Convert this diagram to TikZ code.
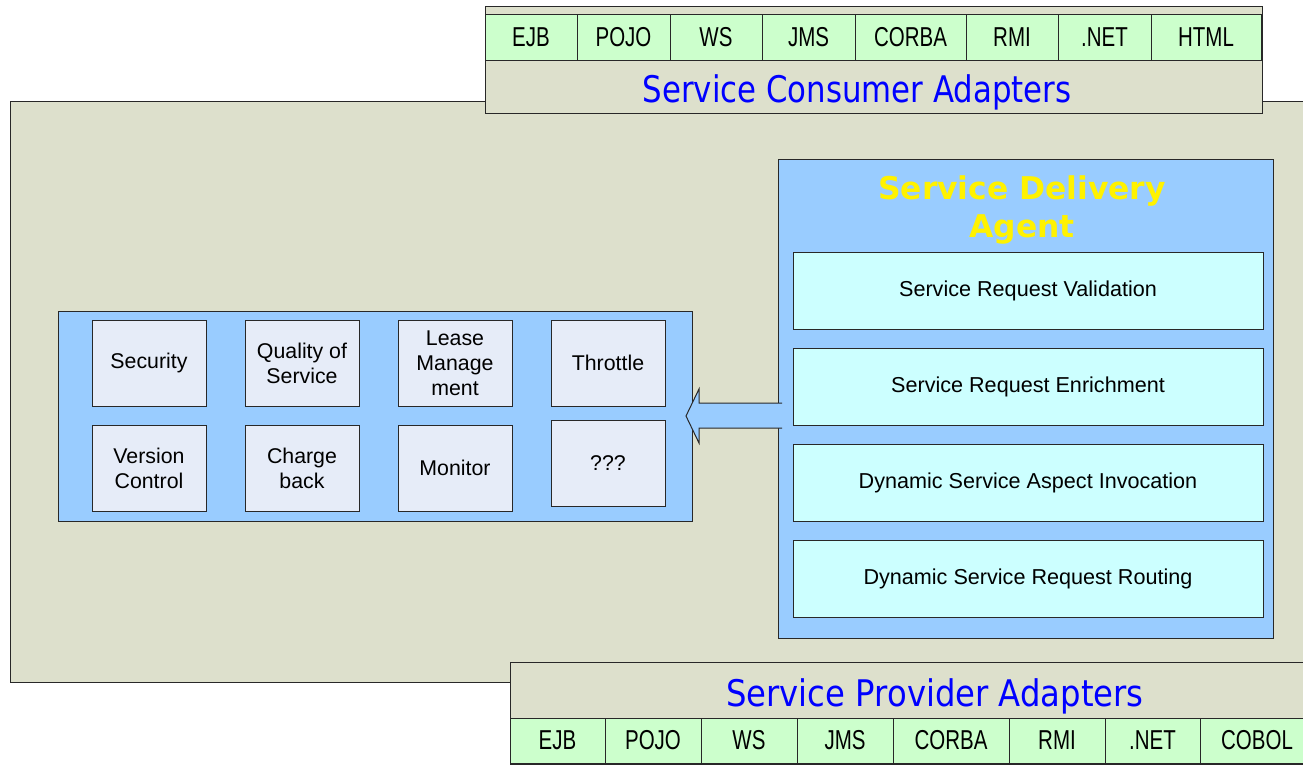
\documentclass[tikz,border=0pt]{standalone}
\usepackage{fontspec}
\setmainfont{Liberation Sans}
\newfontfamily\cellfont[FakeStretch=0.75]{Liberation Sans}
\newfontfamily\bannerfont[FakeStretch=0.84]{DejaVu Sans}
\newfontfamily\bannerwidefont[FakeStretch=0.88]{DejaVu Sans}
\newfontfamily\titlefont{DejaVu Sans}
\usetikzlibrary{calc}
\definecolor{panelgray}{RGB}{221,224,204}
\definecolor{skyblue}{RGB}{153,204,255}
\definecolor{mintgreen}{RGB}{204,255,204}
\definecolor{palecyan}{RGB}{204,255,255}
\definecolor{paleslate}{RGB}{230,236,248}
\definecolor{edgegray}{RGB}{40,40,40}
\tikzset{
  sz/.style 2 args={minimum width=#1*0.75pt, minimum height=#2*0.75pt},
  frame/.style={draw=edgegray, line width=0.75pt, inner sep=0pt, outer sep=0pt, rectangle},
  panel/.style={frame, fill=panelgray},
  holder/.style={frame, fill=skyblue},
  protocell/.style={frame, fill=mintgreen, font=\cellfont\fontsize{20.5}{24}\selectfont},
  stage/.style={frame, fill=palecyan, font=\fontsize{16.2}{19}\selectfont},
  aspectbox/.style={frame, fill=paleslate, align=center,
    font=\fontsize{16}{18.6}\selectfont},
  banner/.style={text=blue, font=\bannerfont\fontsize{27.5}{32}\selectfont, inner sep=0pt},
  agenttitle/.style={text=yellow, align=center,
    font=\titlefont\bfseries\fontsize{23.5}{28}\selectfont, inner sep=0pt},
  blockarrow/.style={fill=skyblue},
  arrowedge/.style={draw=edgegray, line width=0.75pt, line join=miter},
}
\begin{document}
\begin{tikzpicture}[x=0.75pt, y=-0.75pt]
\path[use as bounding box, clip] (0,0) rectangle (1303,764);
\fill[white] (0,0) rectangle (1303,764);

% main container
\node[panel, sz={1320}{581}, anchor=north west] (main) at (10,101) {};

% service consumer adapters
\node[panel, sz={777}{107}] (consumer) at (873.5,59.5) {};
\node[protocell, sz={92}{46}]  (c1) at (531,37) {EJB};
\node[protocell, sz={93}{46}]  (c2) at (623.5,37) {POJO};
\node[protocell, sz={92}{46}]  (c3) at (716,37) {WS};
\node[protocell, sz={93}{46}]  (c4) at (808.5,37) {JMS};
\node[protocell, sz={111}{46}] (c5) at (910.5,37) {CORBA};
\node[protocell, sz={92}{46}]  (c6) at (1012,37) {RMI};
\node[protocell, sz={93}{46}]  (c7) at (1104.5,37) {.NET};
\node[protocell, sz={110}{46}] (c8) at (1206,37) {HTML};
\node[banner] (consumertitle) at (857,92) {Service Consumer Adapters};

% service provider adapters
\node[panel, sz={810}{102}, anchor=north west] (provider) at (510,662) {};
\node[banner, font=\bannerwidefont\fontsize{27.5}{32}\selectfont] (providertitle)
  at (935,696) {Service Provider Adapters};
\node[protocell, sz={95}{45}]  (p1) at (557.5,740.5) {EJB};
\node[protocell, sz={96}{45}]  (p2) at (653,740.5) {POJO};
\node[protocell, sz={96}{45}]  (p3) at (749,740.5) {WS};
\node[protocell, sz={96}{45}]  (p4) at (845,740.5) {JMS};
\node[protocell, sz={116}{45}] (p5) at (951,740.5) {CORBA};
\node[protocell, sz={96}{45}]  (p6) at (1057,740.5) {RMI};
\node[protocell, sz={95}{45}]  (p7) at (1152.5,740.5) {.NET};
\node[protocell, sz={114}{45}] (p8) at (1257,740.5) {COBOL};

% service delivery agent
\node[holder, sz={495}{479}] (agent) at (1025.5,398.5) {};
\node[agenttitle] (agenttitle) at (1022,210) {Service Delivery\\Agent};
\node[stage, sz={470}{77}] (s1) at (1028,290.5) {Service Request Validation};
\node[stage, sz={470}{77}] (s2) at (1028,386.5) {Service Request Enrichment};
\node[stage, sz={470}{77}] (s3) at (1028,482.5) {Dynamic Service Aspect Invocation};
\node[stage, sz={470}{77}] (s4) at (1028,578.5) {Dynamic Service Request Routing};

% service aspects
\node[holder, sz={634}{210}] (aspects) at (375,416) {};
\node[aspectbox, sz={114}{86}] (a1) at (149,363) {Security};
\node[aspectbox, sz={114}{86}] (a2) at (302,363) {Quality of\\Service};
\node[aspectbox, sz={114}{86}] (a3) at (455,363) {Lease\\Manage\\ment};
\node[aspectbox, sz={114}{86}] (a4) at (608,363) {Throttle};
\node[aspectbox, sz={114}{86}] (a5) at (149,468) {Version\\Control};
\node[aspectbox, sz={114}{86}] (a6) at (302,468) {Charge\\back};
\node[aspectbox, sz={114}{86}] (a7) at (455,468) {Monitor};
\node[aspectbox, sz={114}{86}] (a8) at (608,463.5) {???};

% block arrow from the agent to the aspects
\coordinate (tip) at ($(aspects.east)+(-6,0)$);
\coordinate (tail) at ($(agent.west |- tip)+(4,0)$);
\fill[blockarrow] (tail) ++(0,-13) -- ($(tip)+(13,-13)$) -- ($(tip)+(13,-27)$)
  -- (tip) -- ($(tip)+(13,27)$) -- ($(tip)+(13,12)$) -- ($(tail)+(0,12)$) -- cycle;
\draw[arrowedge] ($(tail)+(0,-13)$) -- ($(tip)+(13,-13)$) -- ($(tip)+(13,-27)$)
  -- (tip) -- ($(tip)+(13,27)$) -- ($(tip)+(13,12)$) -- ($(tail)+(0,12)$);
\end{tikzpicture}
\end{document}
